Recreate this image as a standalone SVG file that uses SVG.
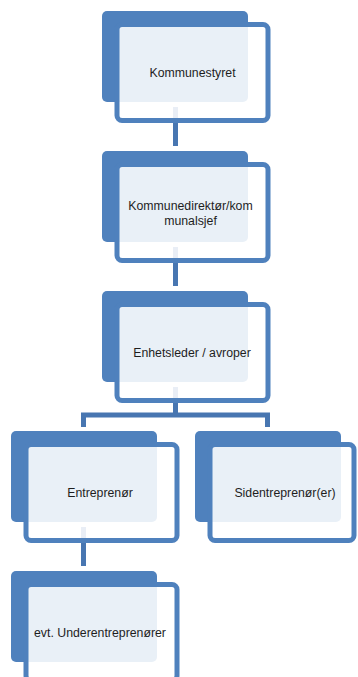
<svg xmlns="http://www.w3.org/2000/svg" width="358" height="677" viewBox="0 0 358 677">
<style>
.back{fill:#4F81BD;}
.front{fill:#FFFFFF;fill-opacity:0.88;stroke:#4F81BD;stroke-width:5;}
.conn{fill:none;stroke:#4876B1;stroke-width:5;stroke-linejoin:miter;}
text{font-family:"Liberation Sans",Arial,sans-serif;font-size:12.3px;fill:#1E1E1E;text-anchor:middle;}
</style>
<rect width="358" height="677" fill="#FFFFFF"/>
<g id="connectors">
<path class="conn" d="M175.5,107 V146"/>
<path class="conn" d="M175.5,247 V286"/>
<path class="conn" d="M175.5,387 V415"/>
<path class="conn" d="M83.5,427 V415 H267.5 V427"/>
<path class="conn" d="M83.5,527 V566"/>
</g>
<g id="kommunestyret">
<rect class="back" x="102" y="11" width="146" height="91" rx="5"/>
<rect class="front" x="117" y="24.5" width="151" height="96" rx="5"/>
<text x="192.5" y="77">Kommunestyret</text>
</g>
<g id="kommunedirektor">
<rect class="back" x="102" y="151" width="146" height="91" rx="5"/>
<rect class="front" x="117" y="164.5" width="151" height="96" rx="5"/>
<text x="190.5" y="210">Kommunedirektør/kom</text>
<text x="190.5" y="224.5">munalsjef</text>
</g>
<g id="enhetsleder">
<rect class="back" x="102" y="291" width="146" height="91" rx="5"/>
<rect class="front" x="117" y="304.5" width="151" height="96" rx="5"/>
<text x="192" y="357">Enhetsleder / avroper</text>
</g>
<g id="entreprenor">
<rect class="back" x="11" y="431" width="146" height="91" rx="5"/>
<rect class="front" x="26" y="444.5" width="151" height="96" rx="5"/>
<text x="100" y="497">Entreprenør</text>
</g>
<g id="sidentreprenor">
<rect class="back" x="195" y="431" width="146" height="91" rx="5"/>
<rect class="front" x="210" y="444.5" width="144" height="96" rx="5"/>
<text x="285" y="497">Sidentreprenør(er)</text>
</g>
<g id="underentreprenorer">
<rect class="back" x="11" y="571" width="146" height="91" rx="5"/>
<rect class="front" x="26" y="584.5" width="151" height="96" rx="5"/>
<text x="100" y="637">evt. Underentreprenører</text>
</g>
</svg>
